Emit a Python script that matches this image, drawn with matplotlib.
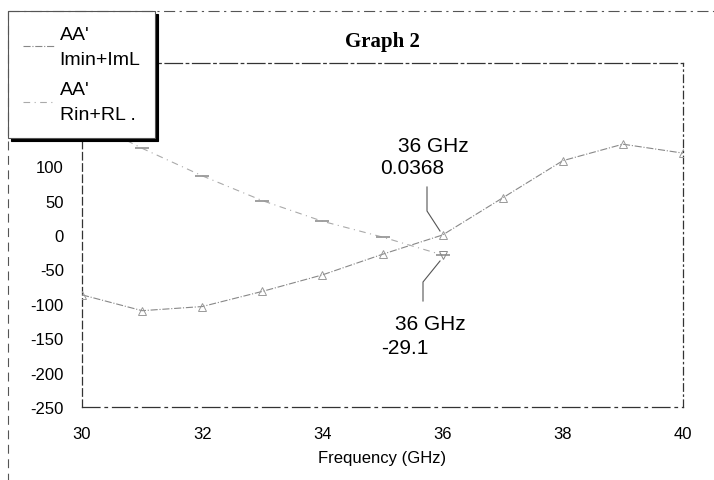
import matplotlib
matplotlib.use("Agg")
import matplotlib.pyplot as plt
from matplotlib.lines import Line2D

# Data
freq_imag = [30, 31, 32, 33, 34, 35, 36, 37, 38, 39, 40]
imag_vals = [-87, -110, -104, -82, -58, -28, 0.0368, 54, 108, 132, 119]
freq_real = [30, 31, 32, 33, 34, 35, 36]
real_vals = [170, 126, 86, 50, 20, -3, -29.1]
series_labels = ["AA'\nImin+ImL", "AA'\nRin+RL ."]
xticks = [30, 32, 34, 36, 38, 40]
yticks = [-250, -200, -150, -100, -50, 0, 50, 100]
title = "Graph 2"
xlabel = "Frequency (GHz)"
ann1 = ("36 GHz", "0.0368")
ann2 = ("36 GHz", "-29.1")

W, H = 714, 481
fig = plt.figure(figsize=(W / 100, H / 100), dpi=100)
ax = fig.add_axes([82 / W, 1 - 408 / H, (683 - 82) / W, (408 - 64) / H])

sans = ["Liberation Sans", "DejaVu Sans"]
serif = ["Liberation Serif", "DejaVu Serif"]

l1, = ax.plot(freq_imag, imag_vals, color="#888888", lw=0.8, ls="-.",
              marker="^", ms=6, mfc="none", mec="#999999", mew=0.7, zorder=3)
l2, = ax.plot(freq_real, real_vals, color="#aaaaaa", lw=0.8, ls=(0, (6, 4, 1, 4)),
              marker="_", ms=10, mec="#999999", mew=1.3, zorder=3)
# special marker for the -29.1 point
ax.plot([freq_real[-1]], [real_vals[-1]], marker="v", ms=6, mfc="none",
        mec="#888888", mew=0.7, ls="none", zorder=3)

ax.set_xlim(30, 40)
ax.set_ylim(-250, 250)
ax.set_xticks(xticks)
ax.set_yticks(yticks)
ax.set_xticklabels([str(v) for v in xticks], family=sans, fontsize=12)
ax.set_yticklabels([str(v) for v in yticks], family=sans, fontsize=12)
ax.tick_params(length=0, pad=13)
ax.tick_params(axis="x", pad=14)
ax.set_xlabel(xlabel, family=sans, fontsize=12, labelpad=6)

for side, st in [("left", (0, (6, 3))), ("right", (0, (6, 3, 1, 3))),
                 ("top", (0, (14, 3, 2, 3))), ("bottom", (0, (14, 4, 2, 4)))]:
    ax.spines[side].set_linestyle(st)
    ax.spines[side].set_color("#333333")
    ax.spines[side].set_linewidth(0.9)

# Title
fig.text(382 / W, 1 - 42 / H, title, family=serif, fontweight="bold",
         fontsize=15, ha="center", va="center")

# Annotations
fig.text(398 / W, 1 - 146 / H, ann1[0], family=sans, fontsize=15, ha="left", va="center")
fig.text(380 / W, 1 - 169 / H, ann1[1], family=sans, fontsize=15, ha="left", va="center")
fig.text(395 / W, 1 - 324 / H, ann2[0], family=sans, fontsize=15, ha="left", va="center")
fig.text(381 / W, 1 - 348 / H, ann2[1], family=sans, fontsize=15, ha="left", va="center")

fig.add_artist(Line2D([427 / W, 427 / W, 440 / W], [1 - 188 / H, 1 - 212 / H, 1 - 232 / H],
                      color="#555555", lw=0.8))
fig.add_artist(Line2D([423 / W, 423 / W, 440 / W], [1 - 302 / H, 1 - 283 / H, 1 - 262 / H],
                      color="#555555", lw=0.8))

# Figure border (top and left dashed)
fig.add_artist(Line2D([8 / W, 1.0], [1 - 12 / H, 1 - 12 / H], color="#555555",
                      lw=0.8, ls=(0, (10, 4, 2, 4))))
fig.add_artist(Line2D([8 / W, 8 / W], [1 - 12 / H, 0.0], color="#555555",
                      lw=0.8, ls=(0, (8, 5))))

leg = ax.legend([l1, l2], series_labels, loc="upper left",
                bbox_to_anchor=(8 / W, 1 - 12 / H), bbox_transform=fig.transFigure,
                borderaxespad=0, prop={"family": sans, "size": 14},
                frameon=True, fancybox=False, shadow={"color": "black", "alpha": 1},
                handlelength=1.6, handletextpad=0.3, labelspacing=0.7,
                borderpad=0.75, markerscale=0.0001)
for t in leg.get_texts():
    t.set_linespacing(1.62)
leg.get_frame().set_edgecolor("#555555")
leg.get_frame().set_linewidth(0.8)
leg.set_zorder(10)

fig.savefig("out.png", dpi=100)
